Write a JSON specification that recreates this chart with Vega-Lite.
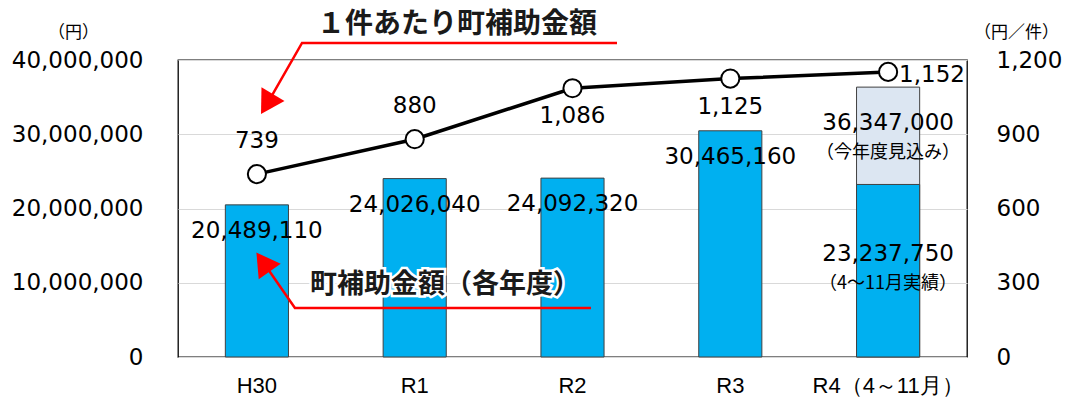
{
  "$schema": "https://vega.github.io/schema/vega-lite/v6.json",
  "width": 789,
  "height": 297,
  "autosize": "none",
  "padding": {"left": 178, "top": 60, "right": 100, "bottom": 43},
  "background": "#ffffff",
  "config": {
    "view": {"stroke": "#000000", "strokeWidth": 1.3},
    "font": "DejaVu Sans",
    "axis": {"labelColor": "#000000", "titleColor": "#000000", "domain": false, "ticks": false}
  },
  "datasets": {
    "yearly": [
      {"year": "H30", "amount": 20489110, "perCase": 739},
      {"year": "R1", "amount": 24026040, "perCase": 880},
      {"year": "R2", "amount": 24092320, "perCase": 1086},
      {"year": "R3", "amount": 30465160, "perCase": 1125},
      {"year": "R4（4～11月）", "amount": 23237750, "estimate": 36347000, "perCase": 1152}
    ],
    "arrows": [
      {"arrow": "a", "step": 1, "x": 2.782, "y": 42290000},
      {"arrow": "a", "step": 2, "x": 0.786, "y": 42290000},
      {"arrow": "a", "step": 3, "x": 0.564, "y": 34070000},
      {"arrow": "b", "step": 1, "x": 2.617, "y": 6600000},
      {"arrow": "b", "step": 2, "x": 0.741, "y": 6600000},
      {"arrow": "b", "step": 3, "x": 0.539, "y": 12790000}
    ],
    "notes": [
      {"note": "title", "text": "１件あたり町補助金額", "x": 1.768, "y": 44710000},
      {"note": "bars", "text": "町補助金額（各年度）", "x": 1.692, "y": 9700000}
    ]
  },
  "resolve": {"scale": {"x": "independent", "y": "independent"}},
  "layer": [
    {
      "data": {"name": "yearly"},
      "encoding": {
        "x": {
          "field": "year", "type": "nominal", "sort": null,
          "scale": {"domain": ["H30", "R1", "R2", "R3", "R4（4～11月）"], "paddingInner": 0.6, "paddingOuter": 0.3},
          "axis": {"title": null, "labelAngle": 0, "labelFont": "Liberation Sans", "labelFontSize": 22, "labelPadding": 18}
        }
      },
      "layer": [
        {
          "transform": [{"filter": "datum.estimate != null"}],
          "mark": {"type": "bar", "fill": "#DCE6F2", "stroke": "#404040", "strokeWidth": 1},
          "encoding": {
            "y": {
              "field": "estimate", "type": "quantitative",
              "scale": {"domain": [0, 40000000]},
              "axis": {
                "title": "（円）", "titleAngle": 0, "titleFont": "Noto Sans CJK JP", "titleFontSize": 17, "titleFontWeight": "normal",
                "titleX": -105, "titleY": -28, "titleAlign": "center", "titleBaseline": "middle",
                "values": [0, 10000000, 20000000, 30000000, 40000000], "format": ",.0f",
                "labelFontSize": 23, "labelPadding": 35,
                "grid": true, "gridColor": "#d9d9d9", "gridWidth": 1.2
              }
            }
          }
        },
        {
          "mark": {"type": "bar", "fill": "#00B0F0", "stroke": "#404040", "strokeWidth": 1},
          "encoding": {"y": {"field": "amount", "type": "quantitative"}}
        },
        {
          "transform": [{"filter": "datum.estimate == null"}],
          "mark": {"type": "text", "fontSize": 23, "dy": 26, "baseline": "middle", "color": "#000000"},
          "encoding": {"y": {"field": "amount", "type": "quantitative"}, "text": {"field": "amount", "type": "quantitative", "format": ",.0f"}}
        },
        {
          "transform": [{"filter": "datum.estimate != null"}],
          "mark": {"type": "text", "fontSize": 23, "dy": 70, "baseline": "middle", "color": "#000000"},
          "encoding": {"y": {"field": "amount", "type": "quantitative"}, "text": {"field": "amount", "type": "quantitative", "format": ",.0f"}}
        },
        {
          "transform": [{"filter": "datum.estimate != null"}],
          "mark": {"type": "text", "fontSize": 18, "font": "Noto Sans CJK JP", "dy": 100, "baseline": "middle", "color": "#000000", "text": "（4～11月実績）"},
          "encoding": {"y": {"field": "amount", "type": "quantitative"}}
        },
        {
          "transform": [{"filter": "datum.estimate != null"}],
          "mark": {"type": "text", "fontSize": 23, "dy": 36, "baseline": "middle", "color": "#000000"},
          "encoding": {"y": {"field": "estimate", "type": "quantitative"}, "text": {"field": "estimate", "type": "quantitative", "format": ",.0f"}}
        },
        {
          "transform": [{"filter": "datum.estimate != null"}],
          "mark": {"type": "text", "fontSize": 18, "font": "Noto Sans CJK JP", "dy": 66, "baseline": "middle", "color": "#000000", "text": "（今年度見込み）"},
          "encoding": {"y": {"field": "estimate", "type": "quantitative"}}
        }
      ]
    },
    {
      "data": {"name": "yearly"},
      "encoding": {
        "x": {"field": "year", "type": "nominal", "sort": null, "scale": {"domain": ["H30", "R1", "R2", "R3", "R4（4～11月）"], "paddingInner": 0.6, "paddingOuter": 0.3}, "axis": null}
      },
      "layer": [
        {
          "mark": {"type": "line", "color": "#000000", "strokeWidth": 3.5},
          "encoding": {
            "y": {
              "field": "perCase", "type": "quantitative",
              "scale": {"domain": [0, 1200]},
              "axis": {
                "orient": "right", "title": "（円／件）", "titleAngle": 0, "titleFont": "Noto Sans CJK JP", "titleFontSize": 17, "titleFontWeight": "normal",
                "titleX": 49, "titleY": -28, "titleAlign": "center", "titleBaseline": "middle",
                "values": [0, 300, 600, 900, 1200], "format": ",.0f",
                "labelFontSize": 23, "labelPadding": 29, "grid": false
              }
            }
          }
        },
        {
          "mark": {"type": "point", "filled": true, "fill": "#ffffff", "stroke": "#000000", "strokeWidth": 2, "size": 330, "opacity": 1},
          "encoding": {"y": {"field": "perCase", "type": "quantitative"}}
        },
        {
          "transform": [{"filter": "datum.perCase < 1000"}],
          "mark": {"type": "text", "fontSize": 23, "dy": -33, "baseline": "middle", "color": "#000000"},
          "encoding": {"y": {"field": "perCase", "type": "quantitative"}, "text": {"field": "perCase", "type": "quantitative", "format": ",.0f"}}
        },
        {
          "transform": [{"filter": "datum.perCase >= 1000 && datum.perCase < 1150"}],
          "mark": {"type": "text", "fontSize": 23, "dy": 28, "baseline": "middle", "color": "#000000"},
          "encoding": {"y": {"field": "perCase", "type": "quantitative"}, "text": {"field": "perCase", "type": "quantitative", "format": ",.0f"}}
        },
        {
          "transform": [{"filter": "datum.perCase >= 1150"}],
          "mark": {"type": "text", "fontSize": 23, "dx": 11, "dy": 3, "align": "left", "baseline": "middle", "color": "#000000"},
          "encoding": {"y": {"field": "perCase", "type": "quantitative"}, "text": {"field": "perCase", "type": "quantitative", "format": ",.0f"}}
        }
      ]
    },
    {
      "encoding": {
        "x": {"field": "x", "type": "quantitative", "scale": {"domain": [0, 5], "nice": false, "zero": false}, "axis": null},
        "y": {"field": "y", "type": "quantitative", "scale": {"domain": [0, 40000000], "nice": false}, "axis": null}
      },
      "layer": [
        {
          "data": {"name": "arrows"},
          "mark": {"type": "line", "color": "#FF0000", "strokeWidth": 2.5},
          "encoding": {"detail": {"field": "arrow"}, "order": {"field": "step", "type": "quantitative"}}
        },
        {
          "data": {"name": "arrows"},
          "transform": [{"filter": "datum.arrow == 'a' && datum.step == 3"}],
          "mark": {"type": "point", "shape": "triangle-up", "filled": true, "color": "#FF0000", "size": 720, "angle": 211, "opacity": 1}
        },
        {
          "data": {"name": "arrows"},
          "transform": [{"filter": "datum.arrow == 'b' && datum.step == 3"}],
          "mark": {"type": "point", "shape": "triangle-up", "filled": true, "color": "#FF0000", "size": 720, "angle": 325, "opacity": 1}
        },
        {
          "data": {"name": "notes"},
          "transform": [{"filter": "datum.note == 'title'"}],
          "mark": {"type": "text", "font": "Noto Sans CJK JP", "fontWeight": "bold", "fontSize": 28, "baseline": "middle", "color": "#1a1a1a"},
          "encoding": {"text": {"field": "text"}}
        },
        {
          "data": {"name": "notes"},
          "transform": [{"filter": "datum.note == 'bars'"}],
          "mark": {"type": "text", "font": "Noto Sans CJK JP", "fontWeight": "bold", "fontSize": 27, "baseline": "middle", "stroke": "#ffffff", "strokeWidth": 5, "color": "#ffffff"},
          "encoding": {"text": {"field": "text"}}
        },
        {
          "data": {"name": "notes"},
          "transform": [{"filter": "datum.note == 'bars'"}],
          "mark": {"type": "text", "font": "Noto Sans CJK JP", "fontWeight": "bold", "fontSize": 27, "baseline": "middle", "color": "#1a1a1a"},
          "encoding": {"text": {"field": "text"}}
        }
      ]
    }
  ]
}
